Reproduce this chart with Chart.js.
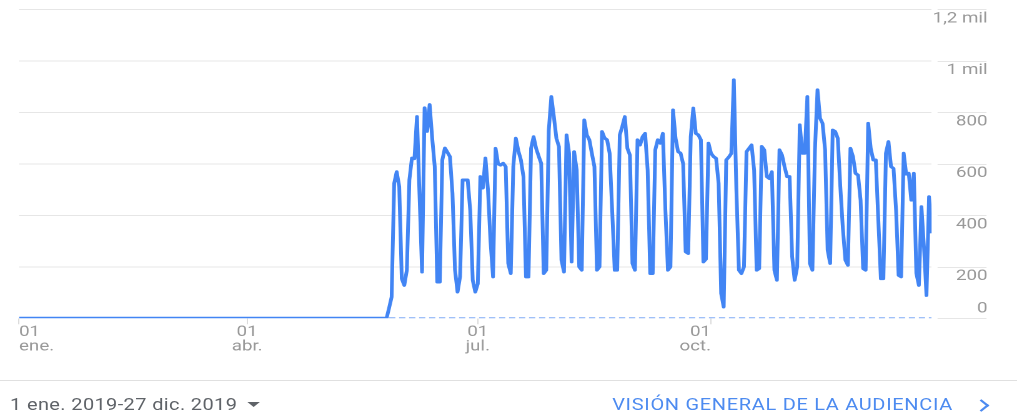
<!DOCTYPE html>
<html lang="es">
<head>
<meta charset="UTF-8">
<title>Visión general de la audiencia</title>
<script src="https://cdn.jsdelivr.net/npm/chart.js"></script>
<style>
  html, body { margin: 0; padding: 0; background: #fff; overflow: hidden; }
  /* la captura original está estirada en horizontal, así que se dibuja más estrecho y se escala */
  #lienzo { position: relative; width: 814px; height: 418px; transform: scaleX(1.2494); transform-origin: 0 0; font-family: Roboto, sans-serif; }
  #grafico { position: absolute; left: 0; top: 0; width: 814px; height: 360px; }
  #separador { position: absolute; left: 0; top: 380px; width: 814px; height: 1px; background: #e0e0e0; }
  #rango { position: absolute; left: 8px; top: 396px; font-size: 16px; line-height: 18px; letter-spacing: 0.3px; color: #5f6368; white-space: nowrap; }
  #rango .flecha { display: inline-block; margin-left: 8px; vertical-align: 3px; border-left: 5px solid transparent; border-right: 5px solid transparent; border-top: 5px solid #5f6368; }
  #enlace { position: absolute; left: 490px; top: 396px; font-size: 16px; line-height: 18px; color: #4d8bf0; letter-spacing: 0.55px; white-space: nowrap; }
  #chevron { position: absolute; left: 781px; top: 401px; width: 7px; height: 7px; border-top: 2px solid #4d8bf0; border-right: 2px solid #4d8bf0; transform: rotate(45deg); }
</style>
</head>
<body>
<div id="lienzo">
  <div id="grafico"><canvas id="sesionesChart"></canvas></div>
  <div id="separador"></div>
  <div id="rango">1 ene. 2019-27 dic. 2019<span class="flecha"></span></div>
  <div id="enlace">VISIÓN GENERAL DE LA AUDIENCIA</div>
  <div id="chevron"></div>
</div>

<script>
  // días contados desde el 1 ene. 2019 (día 0)
  var diasCero = [0, 145];          // sin sesiones hasta el 26 may.
  var sesiones = [                  // del día 145 (26 may.) al 360 (27 dic.)
    0, 40, 83, 524, 569, 511, 154, 128,
    187, 537, 622, 620, 783, 480, 180,
    817, 726, 830, 700, 590, 141, 141,
    615, 661, 645, 628, 486, 188, 102,
    161, 537, 537, 537, 420, 148, 102,
    134, 550, 506, 622, 500, 300, 161,
    660, 600, 595, 602, 589, 213, 174,
    590, 699, 650, 615, 550, 161, 161,
    660, 705, 660, 630, 602, 174, 187,
    731, 861, 783, 699, 667, 226, 180,
    712, 641, 219, 647, 576, 200, 187,
    770, 712, 693, 640, 589, 187, 200,
    725, 700, 693, 641, 420, 187, 187,
    712, 745, 783, 660, 634, 213, 187,
    693, 673, 705, 718, 576, 174, 174,
    654, 693, 680, 718, 420, 187, 200,
    809, 700, 647, 641, 600, 258, 252,
    705, 816, 718, 712, 693, 219, 230,
    680, 641, 628, 621, 524, 96, 44,
    615, 626, 640, 926, 500, 187, 174,
    200, 647, 660, 673, 576, 187, 193,
    667, 654, 550, 543, 569, 187, 148,
    654, 634, 589, 550, 550, 239, 148,
    200, 751, 641, 641, 861, 213, 187,
    654, 887, 777, 757, 654, 265, 213,
    731, 725, 699, 511, 350, 226, 206,
    660, 628, 563, 556, 459, 193, 187,
    757, 660, 615, 615, 381, 154, 154,
    641, 686, 589, 582, 420, 167, 161,
    641, 560, 563, 459, 563, 175, 128,
    433, 277, 89, 472, 330
  ];
  var diasComparacion = [146, 360];   // línea discontinua a cero
  var valoresComparacion = [0, 0];

  var diasMarcas = [0, 90, 181, 273];
  var etiquetasX = [['01', 'ene.'], ['01', 'abr.'], ['01', 'jul.'], ['01', 'oct.']];
  var valoresY = [0, 200, 400, 600, 800, 1000, 1200];
  var etiquetasY = ['0', '200', '400', '600', '800', '1 mil', '1,2 mil'];

  var puntos = [{ x: diasCero[0], y: 0 }];
  for (var i = 0; i < sesiones.length; i++) {
    puntos.push({ x: diasCero[1] + i, y: sesiones[i] });
  }
  var puntosComparacion = [];
  for (var j = 0; j < diasComparacion.length; j++) {
    puntosComparacion.push({ x: diasComparacion[j], y: valoresComparacion[j] });
  }

  // trocitos de rejilla bajo las etiquetas del eje derecho
  var rejillaEtiquetas = {
    id: 'rejillaEtiquetas',
    beforeDraw: function (chart) {
      var ctx = chart.ctx, area = chart.chartArea, y = chart.scales.y;
      ctx.save();
      ctx.strokeStyle = '#e6e6e6';
      ctx.lineWidth = 1;
      y.ticks.forEach(function (t) {
        var py = Math.round(y.getPixelForValue(t.value)) + 0.5;
        ctx.beginPath();
        ctx.moveTo(area.right + 4.8, py);
        ctx.lineTo(y.right - 0.8, py);
        ctx.stroke();
      });
      ctx.restore();
    }
  };

  Chart.defaults.font.family = 'Roboto';

  new Chart(document.getElementById('sesionesChart'), {
    type: 'line',
    data: {
      datasets: [{
        label: 'Sesiones',
        data: puntos,
        borderColor: '#4285f4',
        borderWidth: 3,
        borderJoinStyle: 'round',
        pointRadius: 0,
        tension: 0,
        fill: false,
        order: 1
      }, {
        label: 'Comparación',
        data: puntosComparacion,
        borderColor: '#80abf6',
        borderWidth: 2,
        borderDash: [5, 3],
        pointRadius: 0,
        fill: false,
        order: 2
      }]
    },
    options: {
      responsive: true,
      maintainAspectRatio: false,
      animation: false,
      devicePixelRatio: 2,
      layout: { padding: { top: 9.3, left: 15.2, right: 23.6, bottom: 0 } },
      plugins: { legend: { display: false }, tooltip: { enabled: false } },
      scales: {
        x: {
          type: 'linear',
          min: 0,
          max: 360,
          afterBuildTicks: function (s) { s.ticks = diasMarcas.map(function (v) { return { value: v }; }); },
          afterFit: function (s) { s.height = 41.7; s.paddingLeft = 0; s.paddingRight = 0; },
          grid: { drawOnChartArea: false, drawTicks: true, tickLength: 6, color: '#dcdcdc' },
          border: { display: false },
          ticks: {
            align: 'inner',
            padding: 1,
            maxRotation: 0,
            autoSkip: false,
            color: '#999999',
            font: { size: 15, lineHeight: 0.95 },
            callback: function (v) { return etiquetasX[diasMarcas.indexOf(v)]; }
          }
        },
        y: {
          position: 'right',
          min: 0,
          max: 1200,
          afterBuildTicks: function (s) { s.ticks = valoresY.map(function (v) { return { value: v }; }); },
          afterFit: function (s) { s.width = 44.8; s.paddingTop = 0; s.paddingBottom = 0; },
          grid: {
            drawTicks: false,
            color: function (c) { return c.tick && c.tick.value === 0 ? 'rgba(0,0,0,0)' : '#e6e6e6'; }
          },
          border: { display: false },
          ticks: {
            crossAlign: 'far',
            padding: 1,
            color: '#999999',
            font: { size: 15, lineHeight: 1.25 },
            callback: function (v) {
              var t = etiquetasY[valoresY.indexOf(v)];
              return v === 0 ? [t, ''] : ['', t];
            }
          }
        }
      }
    },
    plugins: [rejillaEtiquetas]
  });
</script>
</body>
</html>
